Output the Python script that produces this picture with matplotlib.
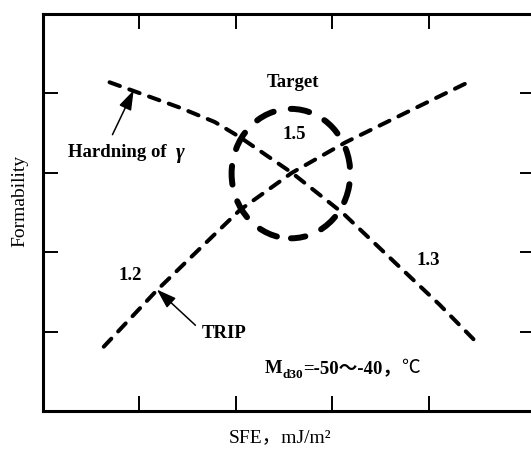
import matplotlib
matplotlib.use("Agg")
import matplotlib.pyplot as plt
from matplotlib.patches import Ellipse

plt.rcParams["lines.scale_dashes"] = False

SERIF = ["Liberation Serif", "Noto Sans CJK SC"]

# Curve read-outs (SFE, formability) in arbitrary units
hard_x = [0.69, 1.42, 1.78, 2.04, 2.58, 3.11, 3.70, 4.11, 4.49]
hard_y = [4.14, 3.82, 3.64, 3.45, 3.00, 2.49, 1.81, 1.34, 0.87]

trip_x = [0.63, 1.18, 1.63, 2.04, 2.58, 3.13, 3.75, 4.39]
trip_y = [0.81, 1.52, 2.05, 2.53, 3.00, 3.38, 3.75, 4.13]

# Target window: centre and extent
target_center = (2.57, 2.99)
target_size = (1.23, 1.63)

tick_pos = [1, 2, 3, 4]

fig = plt.figure(figsize=(5.31, 4.5), dpi=100)
ax = fig.add_axes([43 / 531, 39 / 450, 492 / 531, 397 / 450])
ax.set_xlim(0, 5.1)
ax.set_ylim(0, 5)

for s in ax.spines.values():
    s.set_linewidth(2.2)
ax.set_xticks(tick_pos)
ax.set_yticks(tick_pos)
ax.set_xticklabels([])
ax.set_yticklabels([])
ax.tick_params(direction="in", length=11, width=1.4, top=True, right=True,
               bottom=True, left=True)

line_kw = dict(color="black", lw=2.9, dash_capstyle="round",
               linestyle=(0, (7.9, 7.2)))
ax.plot(hard_x, hard_y, **line_kw)
ax.plot(trip_x, trip_y, **line_kw)

ax.add_patch(Ellipse(target_center, target_size[0], target_size[1],
                     fill=False, ec="black", lw=4.3,
                     linestyle=(3, (13.5, 12.5)), capstyle="round"))

bold = dict(family=SERIF, fontweight="bold", fontsize=13.5, color="black")
ax.text(2.59, 4.14, "Target", ha="center", va="center", **bold)
ax.text(2.60, 3.48, "1.5", ha="center", va="center", **bold)
ax.text(0.90, 1.71, "1.2", ha="center", va="center", **bold)
ax.text(3.99, 1.90, "1.3", ha="center", va="center", **bold)
ax.text(1.88, 0.97, "TRIP", ha="center", va="center", **bold)

t_h = ax.text(0.26, 3.25, "Hardning of  ", ha="left", va="center", **bold)
gamma_kw = dict(bold)
gamma_kw["fontsize"] = 15
ax.annotate("γ", xy=(1, 0.5), xycoords=t_h, ha="left", va="center",
            fontstyle="italic", **gamma_kw)

arrow = dict(arrowstyle="-|>,head_length=0.6,head_width=0.2",
             color="black", lw=1.1, mutation_scale=20,
             shrinkA=0, shrinkB=0)
ax.annotate("", xy=(0.94, 4.04), xytext=(0.72, 3.48), arrowprops=arrow)
ax.annotate("", xy=(1.18, 1.53), xytext=(1.58, 1.08), arrowprops=arrow)

t_m = ax.text(2.30, 0.43, "M", ha="left", va="bottom", **bold)
sub_kw = dict(bold)
sub_kw["fontsize"] = 9.5
t_sub = ax.annotate("d30", xy=(1, 0), xycoords=t_m, xytext=(0, -3),
                    textcoords="offset points", ha="left", va="bottom",
                    **sub_kw)
t_rest = ax.annotate("=-50～-40，", xy=(1, 0), xycoords=(t_sub, t_m),
                     ha="left", va="bottom", **bold)
ax.annotate("℃", xy=(1, 0), xycoords=(t_rest, t_m), ha="left", va="bottom",
            family=SERIF, fontsize=13.5, color="black")

fig.text(280 / 531, 1 - 438 / 450, "SFE，mJ/m²", ha="center", va="center",
         family=SERIF, fontsize=14)
fig.text(20 / 531, 1 - 201 / 450, "Formability", ha="center", va="center",
         rotation=90, family=SERIF, fontsize=14)

fig.savefig("out.png", dpi=100)
